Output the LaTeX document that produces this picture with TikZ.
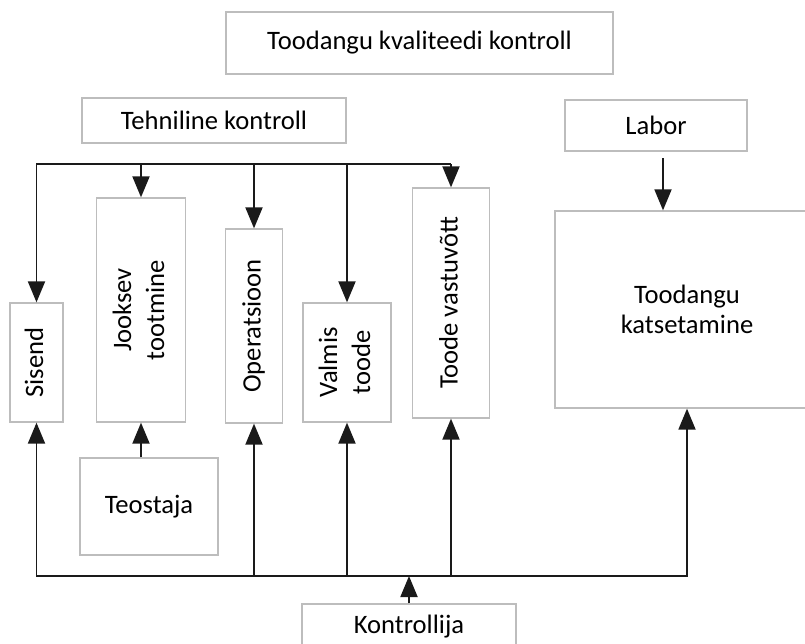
\documentclass[tikz,border=0pt]{standalone}
\usepackage{fontspec}
\setmainfont{Carlito}
\usepackage{graphicx}
\usetikzlibrary{arrows.meta}
\definecolor{boxgray}{HTML}{BDBDBD}
\definecolor{wire}{HTML}{1A1A1A}
\tikzset{
  box/.style={draw=boxgray, line width=1.3pt, fill=white, inner sep=0pt,
    align=center, font=\fontsize{26.6}{33}\selectfont},
  wireline/.style={draw=wire, line width=1.9pt},
  tip/.tip={Triangle[width=17pt,length=21pt]},
  arr/.style={wireline, -tip},
  arrboth/.style={wireline, tip-tip},
}
\newcommand{\vtext}[1]{\rotatebox{90}{\begin{tabular}{@{}c@{}}#1\end{tabular}}}
\begin{document}
\begin{tikzpicture}[x=1pt,y=-1pt]
  \useasboundingbox (0,0) rectangle (805,643);

  % headings and sources
  \node[box, minimum width=387, minimum height=62] (title) at (419.5,43) {Toodangu kvaliteedi kontroll};
  \node[box, minimum width=264, minimum height=45] (tech) at (214,120.5) {Tehniline kontroll};
  \node[box, minimum width=182, minimum height=51] (labor) at (656,125.5) {Labor};

  % process stages (vertical labels)
  \node[box, minimum width=53, minimum height=119] (sisend) at (36.5,362.5) {\vtext{Sisend}};
  \node[box, minimum width=89, minimum height=224] (jooksev) at (141,310) {\vtext{Jooksev\\tootmine}};
  \node[box, minimum width=57, minimum height=194] (oper) at (254,326) {\vtext{Operatsioon}};
  \node[box, minimum width=88, minimum height=119] (valmis) at (347,362.5) {\vtext{Valmis\\toode}};
  \node[box, minimum width=77, minimum height=230] (vastu) at (451,303) {\vtext{Toode vastuvõtt}};
  \node[box, minimum width=264, minimum height=197, font=\fontsize{26.6}{30}\selectfont] (test) at (687,309.5) {Toodangu\\katsetamine};

  % performers
  \node[box, minimum width=138, minimum height=97] (teostaja) at (149,506.5) {Teostaja};
  \node[box, minimum width=214, minimum height=46] (kontrollija) at (409,627) {Kontrollija};

  % upper distribution bus
  \coordinate (tb) at (0,164);
  \draw[arr] (vastu.north |- tb) -- (sisend.north |- tb) -- (sisend.north);
  \foreach \n in {jooksev,oper,valmis,vastu}
    \draw[arr] (\n.north |- tb) -- (\n.north);

  % lower collection bus
  \coordinate (bb) at (0,576);
  \draw[arrboth] (sisend.south) -- (sisend.south |- bb) -- (test.south |- bb) -- (test.south);
  \foreach \n in {oper,valmis,vastu}
    \draw[arr] (\n.south |- bb) -- (\n.south);
  \draw[arr] (kontrollija.north) -- (kontrollija.north |- bb);

  % other links
  \draw[arr] (teostaja.north -| jooksev.south) -- (jooksev.south);
  \coordinate (labsrc) at (663,158);
  \draw[arr] (labsrc) -- (labsrc |- test.north);
\end{tikzpicture}
\end{document}
